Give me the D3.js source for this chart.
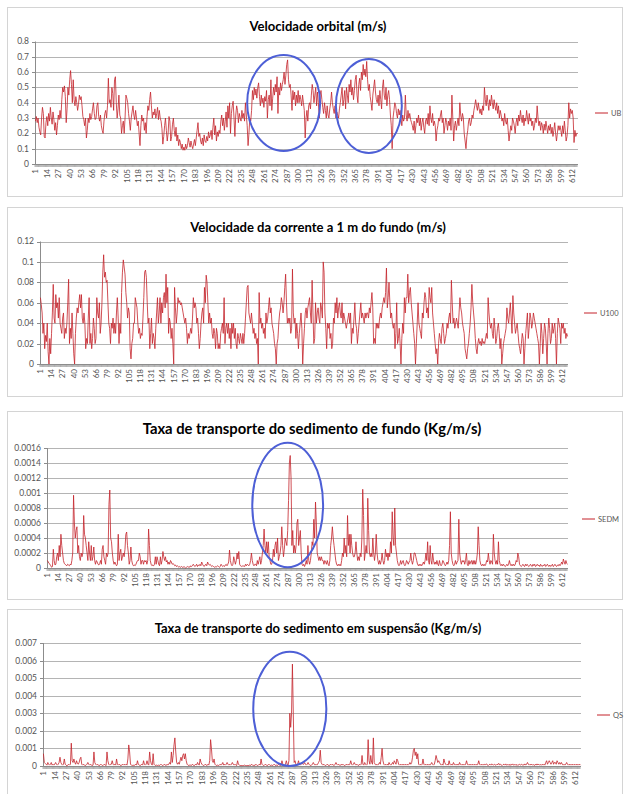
<!DOCTYPE html>
<html>
<head>
<meta charset="utf-8">
<script src="https://cdn.jsdelivr.net/npm/d3@7"></script>
<style>
  body { margin: 0; background: #fff; }
  svg text { font-family: Lato, "Open Sans", sans-serif; }
</style>
</head>
<body>
<svg id="chart" width="625" height="794"></svg>
<script>
(function () {
  'use strict';

  // UB, velocidade orbital (m/s), one value per record
  const ubValues = [
    .28,.31,.27,.30,.24,.21,.19,.30,.37,.33,.18,.17,.27,
    .31,.25,.33,.28,.37,.30,.26,.34,.29,.22,.27,.19,.25,
    .32,.29,.35,.30,.42,.50,.47,.51,.44,.27,.36,.50,.45,
    .55,.61,.52,.40,.55,.42,.38,.44,.40,.35,.39,.45,.42,
    .44,.38,.31,.29,.25,.30,.17,.22,.30,.27,.33,.29,.31,
    .36,.40,.33,.29,.30,.38,.40,.31,.28,.32,.25,.22,.20,
    .28,.33,.35,.30,.38,.56,.40,.42,.37,.50,.46,.35,.55,
    .57,.40,.30,.36,.45,.32,.30,.20,.25,.28,.20,.30,.45,
    .43,.40,.33,.28,.22,.30,.34,.38,.32,.29,.35,.30,.25,
    .28,.20,.12,.25,.32,.28,.30,.22,.27,.20,.31,.38,.35,
    .42,.47,.38,.30,.34,.32,.36,.30,.33,.37,.29,.35,.30,
    .28,.23,.13,.18,.25,.30,.22,.15,.20,.31,.28,.15,.18,
    .26,.30,.22,.18,.24,.15,.19,.12,.16,.14,.10,.13,.09,
    .11,.09,.13,.10,.12,.17,.14,.11,.15,.12,.10,.13,.16,
    .12,.17,.22,.27,.18,.20,.15,.13,.17,.12,.19,.15,.14,
    .18,.15,.21,.17,.19,.22,.16,.24,.30,.19,.25,.15,.21,
    .18,.22,.20,.28,.32,.25,.30,.22,.28,.34,.24,.38,.30,
    .40,.20,.33,.38,.41,.30,.18,.32,.38,.35,.27,.33,.30,
    .28,.35,.30,.33,.28,.40,.32,.25,.12,.20,.30,.28,.35,
    .48,.42,.50,.45,.49,.43,.50,.53,.44,.38,.45,.40,.43,
    .37,.44,.41,.48,.30,.42,.45,.38,.55,.35,.43,.50,.45,
    .52,.47,.57,.33,.50,.45,.53,.48,.52,.55,.60,.52,.58,
    .65,.68,.55,.50,.52,.45,.35,.48,.42,.47,.38,.45,.40,
    .48,.40,.45,.42,.38,.45,.40,.35,.17,.30,.35,.28,.38,
    .40,.36,.45,.52,.48,.40,.45,.50,.38,.47,.40,.30,.45,
    .48,.42,.37,.33,.40,.35,.30,.38,.32,.30,.36,.40,.47,
    .40,.36,.33,.38,.30,.34,.32,.30,.36,.40,.45,.50,.38,
    .42,.48,.36,.50,.45,.40,.52,.47,.55,.45,.50,.42,.48,
    .55,.58,.45,.40,.52,.56,.48,.60,.55,.65,.58,.62,.57,
    .67,.55,.48,.52,.44,.40,.35,.45,.50,.55,.47,.42,.40,
    .45,.38,.48,.42,.36,.50,.55,.45,.42,.50,.38,.45,.48,
    .42,.32,.25,.10,.30,.35,.40,.38,.33,.30,.36,.32,.35,
    .30,.25,.32,.28,.30,.45,.32,.28,.35,.30,.33,.29,.27,
    .25,.22,.28,.20,.25,.30,.27,.32,.25,.30,.22,.27,.30,
    .24,.20,.28,.30,.26,.33,.25,.38,.30,.27,.33,.25,.28,
    .25,.15,.22,.25,.30,.28,.32,.35,.27,.30,.20,.25,.30,
    .27,.22,.28,.25,.30,.22,.45,.30,.15,.25,.28,.22,.26,
    .30,.25,.40,.32,.28,.33,.30,.20,.15,.10,.18,.22,.28,
    .30,.25,.27,.32,.30,.35,.38,.42,.38,.35,.40,.36,.33,
    .36,.32,.38,.35,.50,.42,.38,.45,.40,.35,.42,.38,.45,
    .40,.36,.42,.38,.35,.40,.33,.38,.30,.35,.32,.28,.30,
    .25,.33,.28,.26,.30,.22,.15,.20,.25,.22,.30,.28,.25,
    .20,.27,.30,.25,.32,.28,.35,.30,.27,.32,.25,.30,.28,
    .35,.30,.26,.33,.28,.30,.25,.28,.22,.25,.30,.27,.38,
    .30,.25,.28,.22,.27,.25,.20,.26,.22,.28,.24,.20,.25,
    .22,.26,.20,.24,.18,.22,.27,.20,.15,.20,.25,.22,.25,
    .22,.18,.25,.20,.28,.22,.15,.18,.25,.40,.30,.36,.33,
    .35,.30,.14,.22,.18,.20,.20
  ];

  // U100, velocidade da corrente a 1 m do fundo (m/s)
  const u100Values = [
    .065,.058,.05,.03,.04,.015,.028,.022,.04,.012,0,.025,.01,
    .03,.05,.078,.045,.04,.068,.055,.06,.045,.065,.04,.035,.03,
    .045,.05,.025,.035,.03,.04,.06,.083,.02,.035,.025,.05,.03,
    .01,0,.03,.045,.055,.05,.06,.068,.055,.068,.045,.04,.05,
    .04,.015,.025,.02,.045,.065,.02,.03,.015,.025,.045,.035,.02,
    .025,.065,.05,.045,.06,.03,.04,.06,.09,.107,.085,.09,.08,
    .082,.06,.04,.035,.02,.04,.035,.045,.03,.04,.03,.05,.065,
    .045,.02,.04,.03,.07,.09,.102,.095,.088,.07,.06,.045,.055,
    .05,.015,.005,.02,.025,.04,.04,.065,.06,.055,.04,.03,.035,
    .025,.03,.028,.045,.065,.09,.092,.085,.06,.04,.045,.015,.03,
    .045,.02,.03,.025,.015,.035,.05,.065,.04,.05,.065,.04,.06,
    .05,.065,.07,.055,.088,.06,.075,.03,.045,.04,.025,.035,.02,
    0,.075,.055,.04,.05,.065,.06,.062,.058,.06,.055,.05,.045,
    .04,.045,.035,.02,.03,.025,.03,.035,.03,.045,.065,.055,.06,
    .055,.04,.045,.03,.015,.025,.04,.05,.055,.04,.075,.06,.087,
    .08,.06,.04,.05,.04,.045,.03,.025,.035,.03,.015,.035,.03,
    .015,.02,.015,.03,.035,.04,.03,.065,.02,.035,.04,.03,.04,
    .025,.035,.015,.04,.03,.04,.025,.035,.02,.015,.03,.025,.02,
    .03,.025,.02,.03,.02,.03,.045,.06,.075,.077,.05,.045,.04,
    .05,.04,.03,.035,.025,.03,.02,.025,0,.07,.04,.045,.035,
    .04,.03,.035,.025,.05,.04,.045,.055,.065,.05,.055,.04,.035,
    .03,.02,.015,0,.02,.025,.04,.05,.055,.065,.06,.05,.06,
    .075,.088,.06,.04,.045,.04,.045,.03,.035,.093,.05,.04,.045,
    .025,.04,.03,.015,.03,.04,.05,.035,0,.02,.035,.05,.055,
    .045,.055,.06,.065,.05,.04,.082,.05,.02,.025,.06,.04,.05,
    .055,.045,.04,.06,.055,.045,.1,.09,.05,.035,.015,.04,.035,
    .04,.025,.03,.015,.02,.045,.04,.06,.05,.065,.045,.055,.06,
    .05,.045,.06,.04,.05,.045,.04,.035,.04,.045,.05,.04,.05,
    .02,.035,.03,.045,.06,.04,.035,.02,.03,.04,.05,.06,.045,
    .05,.045,.04,.05,.045,.05,.05,.045,.055,.05,.06,.07,.055,
    .02,.025,.02,.04,.035,.04,.035,.045,.05,.045,.055,.06,.065,
    .06,.07,.094,.055,.065,.08,.06,.045,.05,.04,.035,.04,.015,
    .03,.06,.02,.025,.035,.02,0,.025,.04,.03,.065,.05,.065,
    .065,.088,.06,.07,.075,.06,.05,.04,.03,.02,0,.02,.04,
    .06,.04,.035,.03,.025,.05,.045,.06,.07,.065,.05,.055,.045,
    .075,.065,.06,.075,.05,.04,.03,.02,.01,.015,0,.02,.03,
    .025,.02,.035,.04,.03,.02,.025,.03,.04,.035,.045,.05,.04,
    .082,.06,.04,.045,.035,.04,.045,.04,.035,.05,.065,.055,.05,
    .04,.035,.03,.015,.01,.005,.015,.02,.03,.04,.055,.078,.06,
    .05,.04,.025,.015,.01,.02,.025,.02,.022,.018,.025,.02,.022,
    .02,.025,.03,.025,.065,.05,.04,.035,.04,.03,.025,.045,.035,
    .02,.025,.035,.04,.03,.015,.025,0,.01,.02,.025,.03,.035,
    .055,.045,.04,.05,.06,.045,.03,.067,.05,.04,.03,.035,.04,
    .03,.02,.015,.01,.02,.03,.025,0,.015,.03,.04,.05,.025,
    .035,.05,.045,.035,.04,.05,.045,.04,.035,.03,.025,.02,0,
    .02,.04,.03,.01,.025,.04,.035,.02,0,.03,.045,.035,.02,
    .025,.04,.03,.035,.04,.025,0,.03,.045,.04,.035,.02,.04,
    .035,.04,.03,.035,.025,.03,.027
  ];

  // SEDM, taxa de transporte do sedimento de fundo (Kg/m/s)
  const sedmValues = [
    1e-4,8e-5,6e-5,5e-5,3e-5,1e-5,2e-5,2.5e-4,1e-4,4e-5,5e-5,1.5e-4,2e-4,
    1e-4,3e-4,1.5e-4,4.5e-4,3e-4,2e-4,1e-4,6e-5,5e-5,4e-5,3e-5,5e-5,4e-5,
    3e-5,5e-5,4e-5,1e-4,2e-4,9.7e-4,6e-4,4e-4,5e-4,5.5e-4,2e-4,3e-4,1.5e-4,
    1e-4,2e-4,1.5e-4,2e-4,7e-4,4.5e-4,4e-4,3e-4,2e-4,1e-4,3.5e-4,2e-4,1e-4,
    3e-4,1e-4,1.5e-4,2.8e-4,1e-4,5e-5,1e-4,8e-5,5e-5,4e-5,6e-5,1e-4,5e-5,
    2.5e-4,3e-4,1.5e-4,1e-4,5e-5,2e-4,1.5e-4,2e-4,8.5e-4,1.04e-3,4e-4,3.5e-4,2e-4,
    1e-4,5e-5,8e-5,5e-5,3e-5,5e-5,4.5e-4,1e-4,2e-4,2.5e-4,1e-4,1.5e-4,2e-4,
    1.5e-4,2.5e-4,4.5e-4,4.8e-4,3e-4,2e-4,5e-5,1e-4,2.8e-4,1e-4,5e-5,3e-5,4e-5,
    3e-5,5e-5,8e-5,1e-4,1e-4,2e-4,1.5e-4,5e-5,1e-4,1e-4,5e-5,1e-4,8e-5,
    1e-4,5e-5,1e-4,5.2e-4,3e-4,1e-4,5e-5,3e-5,4e-5,3e-5,5e-5,1.5e-4,5e-5,
    1.5e-4,1e-4,5e-5,3e-5,1.5e-4,5e-5,1e-4,2.2e-4,1.5e-4,1e-4,1.5e-4,8e-5,1e-4,
    5e-5,8e-5,5e-5,1e-4,8e-5,5e-5,6e-5,5e-5,3e-5,4e-5,2e-5,3e-5,2e-5,
    1e-5,2e-5,1e-5,2e-5,1e-5,1e-5,2e-5,1e-5,0,1e-5,2e-5,1e-5,2e-5,
    1e-5,3e-5,2e-5,3e-5,5e-5,3e-5,2e-5,3e-5,5e-5,2e-5,4e-5,3e-5,5e-5,
    3e-5,8e-5,5e-5,3e-5,2e-5,4e-5,5e-5,3e-5,8e-5,5e-5,4e-5,5e-5,3e-5,
    2e-5,3e-5,2e-5,1e-5,2e-5,1e-5,2e-5,3e-5,2e-5,1e-5,2e-5,5e-5,3e-5,
    2e-5,3e-5,2e-5,4e-5,5e-5,3e-5,5e-5,8e-5,2.4e-4,1e-4,5e-5,3e-5,5e-5,
    1.5e-4,1e-4,5e-5,1e-4,2e-4,1.2e-4,2.2e-4,5e-5,3e-5,2e-5,3e-5,2e-5,3e-5,
    2e-5,5e-5,3e-5,5e-5,4e-5,3e-5,5e-5,1e-4,2e-4,1e-4,5e-5,3e-5,5e-5,
    5e-5,3e-5,1e-4,5e-5,1e-4,1.5e-4,5e-5,1e-4,2e-4,3e-4,5.2e-4,3e-4,2e-4,
    3.5e-4,2e-4,3.5e-4,1.5e-4,1e-4,5e-5,5e-5,1e-4,2.5e-4,1.5e-4,3e-4,3.5e-4,2e-4,
    4e-4,1e-4,1.5e-4,2e-4,3e-4,5.5e-4,3e-4,1.5e-4,2.5e-4,4e-4,3.5e-4,3e-4,5e-4,
    9e-4,1.4e-3,1.5e-3,1.2e-3,3e-4,5e-4,2e-4,3e-4,2e-4,3e-4,6e-4,6.5e-4,3e-4,
    4e-4,5e-4,2e-4,5e-5,3e-5,5e-5,2e-5,5e-5,1e-4,5e-5,3e-4,1e-4,5e-5,
    1e-4,2e-4,3.5e-4,3e-4,6.5e-4,4e-4,8.8e-4,6e-4,2e-4,1.5e-4,1e-4,1.5e-4,1e-4,
    1.5e-4,1e-4,1e-4,5e-5,1e-4,8e-5,5e-5,1e-4,5e-5,3e-5,1e-4,3e-4,4e-4,
    5.5e-4,4e-4,3e-4,2e-4,1e-4,5e-5,3e-5,5e-5,3e-5,5e-5,3e-5,1e-4,2e-4,
    1.5e-4,4e-4,2e-4,3e-4,1.5e-4,7e-4,3e-4,4.5e-4,2e-4,4.5e-4,3e-4,2e-4,1.5e-4,
    1.5e-4,2e-4,3.5e-4,2e-4,1e-4,1.5e-4,1e-4,2e-4,1.5e-4,4e-4,1.05e-3,7e-4,1e-4,
    2e-4,3e-4,2e-4,9.3e-4,5e-4,2e-4,1.5e-4,2e-4,1.5e-4,4e-4,2e-4,1e-4,2e-4,
    4.5e-4,2e-4,1e-4,5e-5,1e-4,5e-5,1e-4,2e-4,1e-4,5e-5,1e-4,2.5e-4,1.5e-4,
    2e-4,1e-4,2e-4,1.5e-4,3.5e-4,2e-4,7.5e-4,4e-4,3e-4,8e-4,3e-4,2e-4,1e-4,
    5e-5,3e-5,5e-5,1e-4,5e-5,8e-5,1e-4,5e-5,3e-5,5e-5,1e-4,8e-5,5e-5,
    8e-5,1e-4,2e-4,1e-4,5e-5,1e-4,2e-4,2e-4,1.5e-4,1e-4,5e-5,3e-5,5e-5,
    3e-5,5e-5,3e-5,5e-5,8e-5,5e-5,1e-4,2e-4,1e-4,3.5e-4,1e-4,5e-5,3e-4,
    1e-4,5e-5,2e-4,1e-4,5e-5,8e-5,5e-5,1e-4,5e-5,3e-5,1e-4,5e-5,3e-5,
    5e-5,1e-4,8e-5,5e-5,3e-5,5e-5,8e-5,5e-5,1e-4,3e-4,7.5e-4,2e-4,1e-4,
    5e-5,3e-5,5e-5,1e-4,5e-5,8e-5,1e-4,6.5e-4,2e-4,1e-4,5e-5,1e-4,8e-5,
    1e-4,5e-5,1e-4,2e-4,5e-5,3e-5,1e-4,5e-5,8e-5,1e-4,5e-5,1e-4,5e-5,
    1e-4,5e-5,1e-4,2e-4,5.5e-4,3e-4,1e-4,5e-5,3e-5,5e-5,3e-5,5e-5,3e-5,
    5e-5,1e-4,8e-5,2e-4,1e-4,5e-5,1e-4,8e-5,5e-5,4.5e-4,2e-4,1e-4,5e-5,
    1e-4,5e-5,3.5e-4,1e-4,5e-5,3e-5,5e-5,3e-5,5e-5,3e-5,2e-5,3e-5,5e-5,
    3e-5,5e-5,1e-4,5e-5,3e-5,5e-5,3e-5,5e-5,3e-5,5e-5,1e-4,8e-5,2e-4,
    1.5e-4,5e-5,3e-5,2e-5,3e-5,5e-5,3e-5,2e-5,5e-5,3e-5,5e-5,3e-5,2e-5,
    3e-5,5e-5,3e-5,2e-5,5e-5,3e-5,5e-5,2e-5,3e-5,5e-5,3e-5,4e-5,2e-5,
    5e-5,3e-5,2e-5,4e-5,3e-5,5e-5,2e-5,3e-5,5e-5,3e-5,2e-5,4e-5,2e-5,
    3e-5,5e-5,2e-5,3e-5,5e-5,3e-5,2e-5,4e-5,3e-5,5e-5,3e-5,5e-5,8e-5,
    5e-5,1.2e-4,8e-5,5e-5,1e-4,6e-5,5e-5
  ];

  // QS, taxa de transporte do sedimento em suspensão (Kg/m/s)
  const qsValues = [
    7e-4,2e-4,1.5e-4,1e-4,5e-5,2e-4,1e-4,5e-5,1e-4,2e-4,5e-5,1e-4,5e-5,
    1e-4,2e-4,1e-4,5e-5,1e-4,2e-4,5e-4,2e-4,1e-4,5e-5,1e-4,4e-4,1e-4,
    5e-5,1e-5,5e-5,1e-4,5e-5,1e-4,1.3e-3,3e-4,2e-4,4e-4,2e-4,1e-4,3e-4,
    1.5e-4,1e-4,2e-4,4e-4,5e-4,1e-4,5e-5,1e-4,5e-5,3e-5,5e-5,1e-4,2e-4,
    1e-4,5e-5,1e-4,5e-5,3e-5,5e-5,8e-4,2e-4,1e-4,5e-5,1e-4,5e-5,3e-5,
    5e-5,1e-4,5e-5,3e-5,5e-5,1e-4,5e-5,3e-5,8e-4,3e-4,1e-4,5e-5,1e-4,
    1e-4,3e-4,1e-4,5e-5,1e-4,5e-5,4e-4,1e-4,5e-5,1e-4,5e-5,3e-5,5e-5,
    1e-4,5e-5,1e-4,5e-5,1e-4,5e-5,4e-4,1.2e-3,8e-4,1e-4,5e-5,3e-5,5e-5,
    3e-5,5e-5,1e-4,5e-5,3e-4,1e-4,5e-5,3e-5,5e-5,1e-4,5e-5,3e-4,1e-4,
    5e-5,1e-4,3e-4,1e-4,5e-5,8e-4,3e-4,1e-4,5e-5,7e-4,1e-4,5e-5,3e-5,
    5e-5,3e-5,5e-5,3e-5,5e-5,1e-4,5e-5,3e-5,5e-5,1e-4,5e-5,3e-5,1e-4,
    5e-5,1e-4,2e-4,1e-4,8e-4,2e-4,6e-4,1.2e-3,1.6e-3,8e-4,2e-4,1e-4,2e-4,
    1e-4,3e-4,5e-4,3e-4,6e-4,7e-4,4e-4,7e-4,3e-4,1e-4,5e-5,3e-5,5e-5,
    5e-5,3e-5,1e-4,5e-5,3e-5,5e-5,1e-4,5e-5,2e-4,1e-4,5e-5,4e-4,2e-4,
    1e-4,5e-5,3e-5,5e-5,1e-4,5e-5,3e-5,1e-4,5e-5,3e-4,1.5e-3,1e-3,3e-4,
    2e-4,4e-4,1e-4,5e-5,3e-5,5e-5,3e-5,5e-5,1e-4,5e-5,1e-4,2e-4,5e-5,
    1e-4,5e-5,1e-4,2e-4,1e-4,5e-5,1e-4,5e-5,1e-4,2e-4,1e-4,5e-5,1e-4,
    5e-5,3e-5,3e-4,1e-4,5e-5,3e-5,2e-5,3e-5,2e-5,3e-5,5e-5,3e-5,2e-5,
    3e-5,2e-5,3e-5,5e-5,3e-5,1e-4,5e-5,3e-5,5e-5,3e-5,1e-4,5e-5,3e-5,
    5e-5,1e-4,5e-5,4e-4,1e-4,5e-5,3e-5,5e-5,1e-4,5e-5,3e-5,5e-5,1e-4,
    5e-5,3e-5,5e-5,3e-5,5e-5,1e-4,5e-5,3e-5,5e-5,3e-5,1e-4,5e-5,3e-5,
    5e-5,3e-4,1e-4,5e-5,3e-5,1e-4,3e-4,1e-4,5e-5,3e-4,3e-3,2.2e-3,3e-3,
    5.8e-3,3e-3,2e-4,3e-4,1e-4,5e-5,1e-4,3e-4,1e-4,5e-5,1e-4,2e-4,1e-4,
    1e-4,2e-4,1e-4,5e-5,1e-4,2e-4,1e-4,5e-5,3e-5,5e-5,1e-4,2e-4,1e-4,
    5e-5,1e-4,5e-5,1e-4,2e-4,3e-4,9e-4,2e-4,1e-4,5e-5,1e-4,5e-5,3e-5,
    5e-5,1e-4,5e-5,3e-5,5e-5,1e-4,5e-5,1e-4,5e-5,3e-5,1e-4,2e-4,1e-4,
    5e-5,1e-4,5e-5,3e-5,1e-4,5e-5,1e-4,5e-5,3e-5,5e-5,1e-4,5e-5,1e-4,
    5e-5,1e-4,3e-4,1e-4,5e-5,1e-4,2e-4,1e-4,5e-5,1e-4,5e-5,3e-5,1e-4,
    5e-5,1e-4,6e-4,1e-4,5e-5,2e-4,1e-4,5e-5,1e-4,1.5e-3,3e-4,1e-4,6e-4,
    2e-4,1e-4,1.6e-3,2e-4,1e-4,5e-5,1e-4,5e-5,1e-4,2e-4,1e-4,5e-4,1e-3,
    3e-4,1e-4,5e-5,1e-4,5e-5,1e-4,5e-5,2e-4,1e-4,5e-5,1e-4,2e-4,1e-4,
    3e-4,2e-4,1e-4,4e-4,3e-4,1e-4,5e-5,1e-4,5e-5,1e-4,5e-5,1e-4,5e-5,
    1e-4,5e-5,1e-4,5e-5,1e-4,2e-4,1e-4,2e-4,5e-4,9e-4,1e-3,6e-4,8e-4,
    4e-4,7e-4,1e-4,5e-5,1e-4,5e-5,1e-4,4e-4,1e-4,5e-5,1e-4,5e-5,1e-4,
    5e-5,1e-4,5e-5,1e-4,2e-4,1e-4,5e-5,1e-4,3e-4,6e-4,4e-4,2e-4,3e-4,
    2e-4,1e-4,5e-5,1e-4,5e-5,4e-4,2e-4,1e-4,5e-5,1e-4,5e-5,3e-4,1e-4,
    5e-5,1e-4,5e-5,2e-4,1e-4,5e-5,1e-4,5e-5,1e-4,5e-5,2e-4,1e-4,5e-5,
    1e-4,5e-5,1e-4,5e-5,1e-4,3e-4,1e-4,5e-5,1e-4,5e-5,1e-4,5e-5,1e-4,
    5e-5,1e-4,5e-5,1e-4,5e-5,1e-4,3e-4,1e-4,5e-5,1e-4,5e-5,1e-4,5e-5,
    1e-4,8e-5,1.2e-4,5e-5,3e-5,8e-5,1e-4,5e-5,1.2e-4,8e-5,5e-5,1e-4,6e-5,
    5e-5,1e-4,8e-5,1.5e-4,5e-5,1e-4,6e-5,3e-5,8e-5,1e-4,5e-5,1.2e-4,5e-5,
    8e-5,5e-5,1e-4,3e-5,1e-4,6e-5,1.2e-4,5e-5,8e-5,5e-5,1e-4,3e-5,8e-5,
    5e-5,1e-4,6e-5,1e-4,5e-5,8e-5,5e-5,1.2e-4,5e-5,1e-4,2e-4,1e-4,5e-5,
    1e-4,6e-5,1e-4,5e-5,8e-5,3e-5,1e-4,5e-5,1.2e-4,6e-5,1e-4,5e-5,8e-5,
    5e-5,1e-4,5e-5,1e-4,5e-5,2e-4,3e-4,1e-4,2e-4,3e-4,2e-4,1e-4,2e-4,
    3e-4,1e-4,2e-4,2e-4,1e-4,3e-4,2e-4,1e-4,2e-4,1e-4,2e-4,1e-4,5e-5,
    1e-4,5e-5,1e-4,2e-4,1e-4,5e-5,1e-4,5e-5,1e-4,5e-5,1e-4,5e-5,1e-4,
    5e-5,1e-4,5e-5,1e-4,5e-5,1e-4,5e-5
  ];

  const ubTicks = [0, 0.1, 0.2, 0.3, 0.4, 0.5, 0.6, 0.7, 0.8];
  const u100Ticks = [0, 0.02, 0.04, 0.06, 0.08, 0.1, 0.12];
  const sedmTicks = [0, 0.0002, 0.0004, 0.0006, 0.0008, 0.001, 0.0012, 0.0014, 0.0016];
  const qsTicks = [0, 0.001, 0.002, 0.003, 0.004, 0.005, 0.006, 0.007];

  // blue rings drawn over the charts: [first record, last record, low value, high value]
  const ubRings = [[242, 325, 0.085, 0.712], [343, 418, 0.072, 0.686]];
  const sedmRings = [[244, 328, 0.00001, 0.00167]];
  const qsRings = [[242, 326, 0, 0.0065]];

  const categories = d3.range(1, ubValues.length + 1);
  const categoryLabels = categories.filter(function (c) { return (c - 1) % 13 === 0; });

  var panels = [
    { title: 'Velocidade orbital (m/s)', name: 'UB', values: ubValues, ticks: ubTicks, rings: ubRings,
      box: [7, 196], left: 35, right: 578, top: 41.5, bottom: 164,
      titleX: 318, titleY: 26, titleWidth: 137, legendX: 595, legendY: 113 },
    { title: 'Velocidade da corrente a 1 m do fundo (m/s)', name: 'U100', values: u100Values, ticks: u100Ticks, rings: [],
      box: [207, 396], left: 40, right: 568, top: 241.5, bottom: 364,
      titleX: 318, titleY: 227, titleWidth: 256, legendX: 584, legendY: 313 },
    { title: 'Taxa de transporte do sedimento de fundo (Kg/m/s)', name: 'SEDM', values: sedmValues, ticks: sedmTicks, rings: sedmRings,
      box: [411, 599], left: 47, right: 568, top: 448, bottom: 568,
      titleX: 312, titleY: 429, titleWidth: 339, legendX: 582, legendY: 519 },
    { title: 'Taxa de transporte do sedimento em suspensão (Kg/m/s)', name: 'QS', values: qsValues, ticks: qsTicks, rings: qsRings,
      box: [609, 800], left: 43, right: 581, top: 643, bottom: 766,
      titleX: 318, titleY: 628, titleWidth: 327, legendX: 597, legendY: 715 }
  ];

  var svg = d3.select('#chart');

  panels.forEach(drawPanel);

  function drawPanel(p) {
    var g = svg.append("g");

    g.append("rect")
      .attr("x", 7.5)
      .attr("y", p.box[0] + 0.5)
      .attr("width", 615)
      .attr("height", p.box[1] - p.box[0])
      .attr("fill", "#fff")
      .attr("stroke", "#d4d4d4");

    var x = d3.scaleBand().domain(categories).range([p.left, p.right]);
    var y = d3.scaleLinear().domain([0, d3.max(p.ticks)]).range([p.bottom, p.top]);
    var half = x.bandwidth() / 2;

    // gridlines
    g.selectAll(".grid")
      .data(p.ticks.filter(function (t) { return t > 0; }))
      .enter()
      .append("line")
      .attr("x1", p.left)
      .attr("x2", p.right)
      .attr("y1", function (t) { return Math.round(y(t)) + 0.5; })
      .attr("y2", function (t) { return Math.round(y(t)) + 0.5; })
      .attr("stroke", "#b4b4b4")
      .attr("stroke-width", 1);

    // y axis
    g.append("line")
      .attr("x1", p.left + 0.5).attr("x2", p.left + 0.5)
      .attr("y1", p.top).attr("y2", p.bottom)
      .attr("stroke", "#8c8c8c");

    g.selectAll(".ytick")
      .data(p.ticks)
      .enter()
      .append("line")
      .attr("x1", p.left - 3).attr("x2", p.left)
      .attr("y1", function (t) { return Math.round(y(t)) + 0.5; })
      .attr("y2", function (t) { return Math.round(y(t)) + 0.5; })
      .attr("stroke", "#8c8c8c");

    g.selectAll(".ylabel")
      .data(p.ticks)
      .enter()
      .append("text")
      .attr("x", p.left - 6)
      .attr("y", function (t) { return y(t); })
      .attr("dy", "0.35em")
      .attr("text-anchor", "end")
      .attr("font-size", 8.5)
      .attr("fill", "#555")
      .text(function (t) { return String(t); });

    // x axis with a tick mark per record
    g.append("line")
      .attr("x1", p.left).attr("x2", p.right)
      .attr("y1", Math.round(p.bottom) + 0.5).attr("y2", Math.round(p.bottom) + 0.5)
      .attr("stroke", "#8c8c8c");

    g.append("path")
      .attr("d", categories.map(function (c) {
        var cx = x(c);
        return "M" + cx + "," + (p.bottom + 1) + "V" + (p.bottom + 3);
      }).join(""))
      .attr("stroke", "#8a8a8a")
      .attr("stroke-width", 0.6);

    g.selectAll(".xlabel")
      .data(categoryLabels)
      .enter()
      .append("text")
      .attr("transform", function (c) {
        return "translate(" + (x(c) + half) + "," + (p.bottom + 5) + ") rotate(-90)";
      })
      .attr("dy", "0.35em")
      .attr("text-anchor", "end")
      .attr("font-size", 8)
      .attr("fill", "#555")
      .text(function (c) { return c; });

    // series
    var line = d3.line()
      .x(function (v, i) { return x(categories[i]) + half; })
      .y(function (v) { return y(v); });

    g.append("path")
      .datum(p.values)
      .attr("d", line)
      .attr("fill", "none")
      .attr("stroke", "#c4232b")
      .attr("stroke-width", 0.8)
      .attr("stroke-linejoin", "round");

    // rings
    g.selectAll(".ring")
      .data(p.rings)
      .enter()
      .append("ellipse")
      .attr("cx", function (r) { return (x(r[0]) + x(r[1])) / 2 + half; })
      .attr("cy", function (r) { return (y(r[2]) + y(r[3])) / 2; })
      .attr("rx", function (r) { return (x(r[1]) - x(r[0])) / 2; })
      .attr("ry", function (r) { return (y(r[2]) - y(r[3])) / 2; })
      .attr("fill", "none")
      .attr("stroke", "#4d5fd6")
      .attr("stroke-width", 2);

    // title, sized to the width it has in the original
    var title = g.append("text")
      .attr("x", p.titleX)
      .attr("y", p.titleY)
      .attr("dy", "0.35em")
      .attr("text-anchor", "middle")
      .attr("font-weight", "bold")
      .attr("font-size", 12)
      .attr("fill", "#000")
      .text(p.title);
    var len = title.node().getComputedTextLength();
    if (len > 0) title.attr("font-size", 12 * p.titleWidth / len);

    // legend
    g.append("line")
      .attr("x1", p.legendX).attr("x2", p.legendX + 13)
      .attr("y1", p.legendY).attr("y2", p.legendY)
      .attr("stroke", "#c4232b")
      .attr("stroke-width", 1);

    g.append("text")
      .attr("x", p.legendX + 16)
      .attr("y", p.legendY)
      .attr("dy", "0.35em")
      .attr("font-size", 7.5)
      .attr("fill", "#555")
      .text(p.name);
  }

})();
</script>
</body>
</html>
